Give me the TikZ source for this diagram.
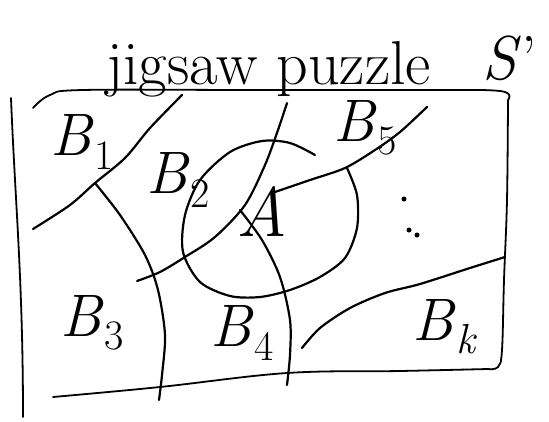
\documentclass[tikz,border=0pt]{standalone}
\usepackage{tikz}
\usetikzlibrary{calc}
\newcommand{\piecelbl}[1]{\textit{B}\kern1pt\raisebox{-0.22em}{\fontsize{42}{46}\selectfont #1}}

\begin{document}
\begin{tikzpicture}[x=1pt, y=-1pt,
    frame/.style={line width=1.8pt, line cap=round, line join=round},
    pen/.style={line width=2.2pt, line cap=round, line join=round},
    lbl/.style={inner sep=0pt, font=\fontsize{60}{64}\selectfont},
    head/.style={inner sep=0pt, font=\fontsize{62}{66}\selectfont},
    dot/.style={circle, fill, inner sep=0pt, minimum size=5pt}]
  \useasboundingbox (0,0) rectangle (549,421);
  % title
  \node[head, anchor=base west] (title) at (106,84) {jigsaw puzzle};
  \node[head, anchor=center] (sp) at (510,58) {\textit{S}'};
  % puzzle frame
  \draw[frame] (11,98) .. controls (15,200) and (23,280) .. (23,417);
  \draw[frame] plot[smooth, tension=0.6] coordinates {(33,108) (50,95) (83,90) (250,90) (420,90) (500,91) (508,100)};
  \draw[frame] plot[smooth, tension=0.6] coordinates {(508,100) (507,200) (504,280) (502,350) (498,367) (488,369)};
  \draw[frame] plot[smooth, tension=0.6] coordinates {(488,369) (400,371) (287,373) (160,387) (53,397)};
  % piece boundaries
  \draw[pen] plot[smooth] coordinates {(33,229) (70,205) (95,183) (125,158) (150,128) (182,95)};
  \draw[pen] plot[smooth] coordinates {(95,183) (120,215) (145,255) (158,290) (165,335) (162,375) (159,400)};
  \draw[pen] plot[smooth] coordinates {(137,281) (160,272) (185,257) (215,237) (245,205) (265,165) (278,130) (287,103)};
  \draw[pen] plot[smooth] coordinates {(275,192) (310,180) (345,168) (375,150) (400,132) (427,107)};
  \draw[pen] plot[smooth] coordinates {(240,210) (262,240) (280,277) (290,320) (290,355) (287,385)};
  \draw[pen] plot[smooth] coordinates {(302,348) (320,328) (350,308) (385,293) (420,284) (470,268) (505,257)};
  % the set A
  \draw[pen] plot[smooth] coordinates {(315,155) (290,143) (262,141) (230,152) (200,180) (185,215) (183,252) (200,282) (230,296) (260,297) (290,290) (320,277) (345,258) (357,228) (357,195) (347,168)};
  \node[lbl, font=\fontsize{70}{74}\selectfont] (a) at (262,212) {\textit{A}};
  % pieces
  \node[lbl] (b1) at (82,142) {\piecelbl{1}};
  \node[lbl] (b2) at (178,180) {\piecelbl{2}};
  \node[lbl] (b5) at (365,128) {\piecelbl{5}};
  \node[lbl] (b3) at (92,323) {\piecelbl{3}};
  \node[lbl] (b4) at (242,333) {\piecelbl{4}};
  \node[lbl] (bk) at (445,327) {\piecelbl{\textit{k}}};
  \node[dot] (d1) at (404,199) {};
  \node[dot] (d2) at (409,230) {};
  \node[dot] (d3) at (417,235) {};
\end{tikzpicture}
\end{document}
